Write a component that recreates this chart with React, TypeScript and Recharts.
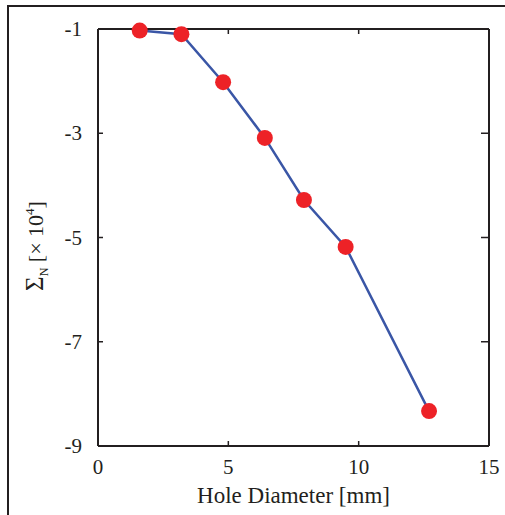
import { LineChart, Line, XAxis, YAxis, Label } from "recharts";

const holeDiameter = [1.6, 3.2, 4.8, 6.4, 7.9, 9.5, 12.7];
const sigmaN = [-1.03, -1.1, -2.02, -3.09, -4.28, -5.18, -8.33];
const xTicks = [0, 5, 10, 15];
const yTicks = [-1, -3, -5, -7, -9];

const data = holeDiameter.map((d, i) => ({ d, s: sigmaN[i] }));

const FONT = "'Liberation Serif', 'Times New Roman', serif";
const INK = "#231f20";
const TICK = 5;
const GAP_X = 14;
const GAP_Y = 16;

// ticks point into the plot, on all four sides
function BottomTick(props: any) {
  const { x, y, payload, index, visibleTicksCount } = props;
  const ay = y - GAP_X;
  const edge = index === 0 || index === visibleTicksCount - 1;
  return (
    <g>
      {!edge && <line x1={x} y1={ay} x2={x} y2={ay - TICK} stroke={INK} strokeWidth={1.5} />}
      <text x={x} y={ay + 28} textAnchor="middle" fontFamily={FONT} fontSize={21} fill={INK}>
        {payload.value}
      </text>
    </g>
  );
}

function TopTick(props: any) {
  const { x, y, index, visibleTicksCount } = props;
  if (index === 0 || index === visibleTicksCount - 1) return <g />;
  return <line x1={x} y1={y} x2={x} y2={y + TICK} stroke={INK} strokeWidth={1.5} />;
}

function LeftTick(props: any) {
  const { x, y, payload, index, visibleTicksCount } = props;
  const ax = x + GAP_Y;
  const edge = index === 0 || index === visibleTicksCount - 1;
  return (
    <g>
      {!edge && <line x1={ax} y1={y} x2={ax + TICK} y2={y} stroke={INK} strokeWidth={1.5} />}
      <text x={x} y={y + 7} textAnchor="end" fontFamily={FONT} fontSize={21} fill={INK}>
        {payload.value}
      </text>
    </g>
  );
}

function RightTick(props: any) {
  const { x, y, index, visibleTicksCount } = props;
  if (index === 0 || index === visibleTicksCount - 1) return <g />;
  return <line x1={x} y1={y} x2={x - TICK - 3} y2={y} stroke={INK} strokeWidth={1.5} />;
}

function YTitle() {
  const cx = 43;
  const cy = 246;
  return (
    <text
      x={cx}
      y={cy}
      transform={`rotate(-90, ${cx}, ${cy})`}
      textAnchor="middle"
      fontFamily={FONT}
      fontSize={22}
      fill={INK}
    >
      <tspan fontSize={25}>Σ</tspan>
      <tspan fontSize={12} dy={5}>N</tspan>
      <tspan dy={-5}> [× 10</tspan>
      <tspan fontSize={13} dy={-9}>4</tspan>
      <tspan dy={9}>]</tspan>
    </text>
  );
}

export default function App() {
  return (
    <div
      style={{
        position: "absolute",
        left: 0,
        top: 0,
        width: 505,
        height: 515,
        background: "#fff",
      }}
    >
      <div
        style={{
          position: "absolute",
          left: 7,
          top: 5,
          width: 497,
          height: 510,
          borderLeft: `2px solid ${INK}`,
          borderTop: `2px solid ${INK}`,
        }}
      />
      <div style={{ position: "absolute", left: 0, top: 0 }}>
        <LineChart
          width={505}
          height={515}
          data={data}
          margin={{ top: 28, right: 15, bottom: 0, left: 0 }}
        >
          <XAxis
            xAxisId="b"
            dataKey="d"
            type="number"
            domain={[0, 15]}
            ticks={xTicks}
            height={69}
            tickSize={0}
            tickMargin={GAP_X}
            tickLine={false}
            stroke={INK}
            strokeWidth={2}
            tick={<BottomTick />}
          >
            <Label
              value="Hole Diameter [mm]"
              position="insideBottom"
              offset={12}
              fill={INK}
              fontFamily={FONT}
              fontSize={23}
            />
          </XAxis>
          <XAxis
            xAxisId="t"
            orientation="top"
            dataKey="d"
            type="number"
            domain={[0, 15]}
            ticks={xTicks}
            height={1}
            tickSize={0}
            tickMargin={0}
            tickLine={false}
            stroke={INK}
            strokeWidth={2}
            tick={<TopTick />}
          />
          <YAxis
            yAxisId="l"
            dataKey="s"
            type="number"
            domain={[-9, -1]}
            ticks={yTicks}
            width={98}
            tickSize={0}
            tickMargin={GAP_Y}
            tickLine={false}
            stroke={INK}
            strokeWidth={2}
            tick={<LeftTick />}
            label={<YTitle />}
          />
          <YAxis
            yAxisId="r"
            orientation="right"
            dataKey="s"
            type="number"
            domain={[-9, -1]}
            ticks={yTicks}
            width={1}
            tickSize={0}
            tickMargin={0}
            tickLine={false}
            stroke={INK}
            strokeWidth={2}
            tick={<RightTick />}
          />
          <Line
            xAxisId="b"
            yAxisId="l"
            dataKey="s"
            stroke="#3a56a6"
            strokeWidth={2.5}
            dot={{ r: 8, fill: "#ed2227", stroke: "none" }}
            isAnimationActive={false}
          />
        </LineChart>
      </div>
    </div>
  );
}
